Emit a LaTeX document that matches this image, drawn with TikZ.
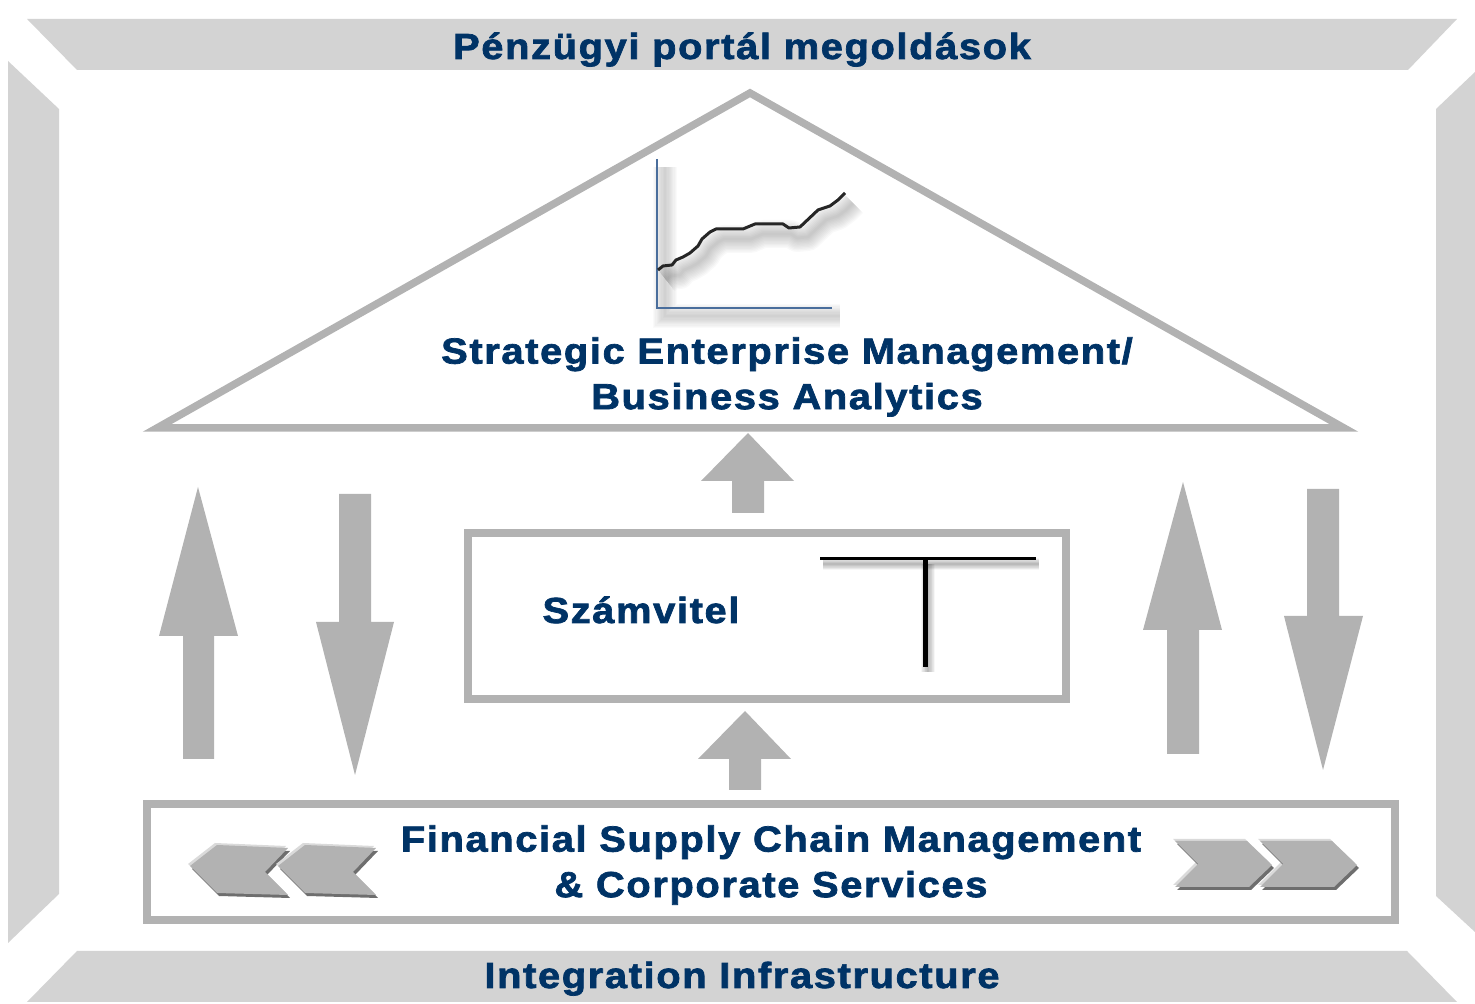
\documentclass[tikz,border=0pt]{standalone}
\usepackage{fontspec}
\setmainfont{Liberation Sans}
\newfontfamily\widebold[LetterSpace=4.5,FakeStretch=1.1,FakeBold=2]{Liberation Sans Bold}
\definecolor{bandgray}{HTML}{D3D3D3}
\definecolor{framegray}{HTML}{B2B2B2}
\definecolor{chevlight}{HTML}{DADADA}
\definecolor{chevdark}{HTML}{6E6E6E}
\definecolor{textblue}{HTML}{003366}
\definecolor{axisblue}{HTML}{4A6E9C}
\tikzset{
  band/.style={fill=bandgray},
  frame/.style={draw=framegray,line width=0.075cm},
  blockarrow/.style={fill=framegray},
  title/.style={font=\widebold\fontsize{10.3}{12.95}\selectfont,text=textblue,align=center,inner sep=0pt},
}
\begin{document}
\begin{tikzpicture}[x=0.01cm,y=-0.01cm]
\useasboundingbox(0,0)rectangle(1475,1004);
% outer bands
\fill[band](27,19)--(1457,19)--(1408,70)--(77,70)--cycle;
\fill[band](77,951)--(1407,951)--(1457,1002)--(27,1002)--cycle;
\fill[band](8,61)--(59,109)--(59,894)--(8,943)--cycle;
\fill[band](1436,109)--(1475,72)--(1475,932)--(1436,896)--cycle;
% roof and boxes
\draw[frame](750,93)--(1344,428)--(157,428)--cycle;
\draw[frame](468,533)rectangle(1066,699);
\draw[frame](147,804)rectangle(1395,920);
% block arrows
\fill[blockarrow](198,487)--(238,636)--(214,636)--(214,759)--(183,759)--(183,636)--(159,636)--cycle;
\fill[blockarrow](355,775)--(394,622)--(371,622)--(371,494)--(339,494)--(339,622)--(316,622)--cycle;
\fill[blockarrow](1183,482)--(1222,630)--(1199,630)--(1199,754)--(1167,754)--(1167,630)--(1143,630)--cycle;
\fill[blockarrow](1323,770)--(1363,616)--(1339,616)--(1339,489)--(1307,489)--(1307,616)--(1284,616)--cycle;
\fill[blockarrow](748,433)--(794,481)--(764,481)--(764,513)--(732,513)--(732,481)--(701,481)--cycle;
\fill[blockarrow](745,711)--(791,759)--(761,759)--(761,790)--(729,790)--(729,759)--(698,759)--cycle;
% chevrons
\foreach \dx in {0,88}{
  \foreach \ox/\oy/\col in {-2/-2/chevlight,2/3/chevdark,0/0/framegray}{
    \fill[\col,shift={(\dx+\ox,\oy)}](190,866)--(217,845)--(288,848)--(265,872)--(288,895)--(217,893)--cycle;
  }
}
\foreach \dx in {0,85}{
  \foreach \ox/\oy/\col in {-2/-2/chevlight,2/3/chevdark,0/0/framegray}{
    \fill[\col,shift={(\dx+\ox,\oy)}](1175,841)--(1247,841)--(1272,865)--(1249,887)--(1175,887)--(1198,864)--cycle;
  }
}
% soft shadows
\foreach \w in {1,2,...,10}{
  \draw[black,opacity=0.018,line width=\w*0.024cm,shift={(8,8)}](657,159)--(657,308)--(832,308);
  \draw[black,opacity=0.022,line width=\w*0.028cm,line join=round,shift={(8,10)}](658,270)--(663,266)--(672,265)--(676,260)--(683,257)--(690,253)--(698,246)--(702,239)--(710,232)--(716,229)--(743,229)--(755,224)--(783,224)--(789,228)--(800,227)--(818,210)--(830,206)--(838,200)--(845,193);
  \draw[black,opacity=0.03,line width=\w*0.012cm,shift={(3,5)}](820,559)--(1036,559);
  \draw[black,opacity=0.03,line width=\w*0.014cm,shift={(3,5)}](925,559)--(925,667);
}
% chart and t-account
\draw[axisblue,line width=0.025cm](657,159)--(657,308)--(832,308);
\draw[black!85,line width=0.03cm,line join=round](658,270)--(663,266)--(672,265)--(676,260)--(683,257)--(690,253)--(698,246)--(702,239)--(710,232)--(716,229)--(743,229)--(755,224)--(783,224)--(789,228)--(800,227)--(818,210)--(830,206)--(838,200)--(845,193);
\draw[black,line width=0.03cm](820,559)--(1036,559);
\draw[black,line width=0.05cm](925,559)--(925,667);
% labels
\node[title,anchor=base](portal)at(742,59){Pénzügyi portál megoldások};
\node[title](strategic)at(787,377){Strategic Enterprise Management/\\Business Analytics};
\node[title,anchor=base](szamvitel)at(641,623){Számvitel};
\node[title](financial)at(771,865){Financial Supply Chain Management\\\& Corporate Services};
\node[title,anchor=base](integration)at(742,988){Integration Infrastructure};
\end{tikzpicture}
\end{document}
